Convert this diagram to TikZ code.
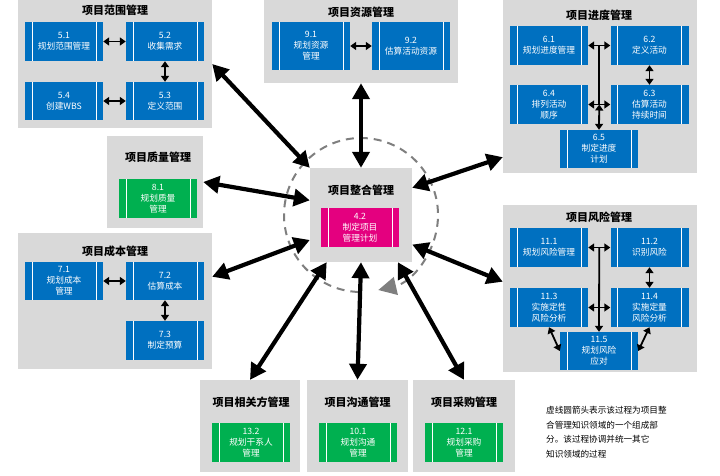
\documentclass[tikz,border=0pt]{standalone}
\usepackage{fontspec}
\setmainfont{Noto Sans CJK SC}
\usetikzlibrary{arrows.meta, calc}
\definecolor{procblue}{HTML}{0070C0}
\definecolor{procgreen}{HTML}{00B050}
\definecolor{procpink}{HTML}{E4007F}
\definecolor{groupgray}{HTML}{D9D9D9}
\definecolor{loopgray}{HTML}{7F7F7F}
\tikzset{
	groupnode/.style={
			draw=none,
			fill=groupgray,
			inner sep=0pt
		},
	titlenode/.style={
			font=\fontsize{11}{13}\selectfont\bfseries,
			inner sep=0pt
		},
	processnode/.style={
			fill=procblue,
			text=white,
			minimum width=78pt,
			minimum height=39pt,
			inner sep=0pt,
			align=center,
			font=\fontsize{8.7}{11}\selectfont,
			path picture={
					\draw[white, line width=0.7pt]
					([xshift=7pt]path picture bounding box.north west) -- ([xshift=7pt]path picture bounding box.south west)
					([xshift=-7pt]path picture bounding box.north east) -- ([xshift=-7pt]path picture bounding box.south east);
				}
		},
	plannode/.style={
			processnode,
			fill=procgreen
		},
	corenode/.style={
			processnode,
			fill=procpink
		},
	notenode/.style={
			align=left,
			inner sep=0pt,
			font=\fontsize{8.6}{14.6}\selectfont
		},
	bigarrow/.style={
			line width=4.2pt,
			{Triangle[length=16pt,width=17pt]}-{Triangle[length=16pt,width=17pt]}
		},
	smallarrow/.style={
			line width=1.8pt,
			{Triangle[length=6pt,width=8pt]}-{Triangle[length=6pt,width=8pt]}
		},
	loopline/.style={
			loopgray,
			line width=2pt,
			dash pattern=on 8pt off 6pt,
			-{Triangle[length=18pt,width=18pt]}
		}
}

\begin{document}
\begin{tikzpicture}[x=1pt, y=-1pt]
    \useasboundingbox (0,0) rectangle (720,475);

    \node[groupnode, minimum width=194pt, minimum height=128pt] (scope) at (115,64) {};
    \node[groupnode, minimum width=194pt, minimum height=83pt] (resource) at (361,41.5) {};
    \node[groupnode, minimum width=194pt, minimum height=173pt] (schedule) at (600,86.5) {};
    \node[groupnode, minimum width=96pt, minimum height=92pt] (quality) at (155,182) {};
    \node[groupnode, minimum width=102pt, minimum height=94pt] (integration) at (361,215) {};
    \node[groupnode, minimum width=194pt, minimum height=136pt] (cost) at (115,301) {};
    \node[groupnode, minimum width=194pt, minimum height=167pt] (risk) at (600,288.5) {};
    \node[groupnode, minimum width=100pt, minimum height=92pt] (stakeholder) at (250,426) {};
    \node[groupnode, minimum width=101pt, minimum height=92pt] (comm) at (357.5,426) {};
    \node[groupnode, minimum width=102pt, minimum height=92pt] (procure) at (464,426) {};

    \draw[loopline] ($(integration.center)+(92:77)$) arc[start angle=92, end angle=437, radius=77];

    \node[titlenode] (t-scope) at (115,10) {项目范围管理};
    \node[titlenode] (t-resource) at (361,12) {项目资源管理};
    \node[titlenode] (t-schedule) at (599,15) {项目进度管理};
    \node[titlenode] (t-quality) at (158,157) {项目质量管理};
    \node[titlenode] (t-integration) at (361,190) {项目整合管理};
    \node[titlenode] (t-cost) at (115,251) {项目成本管理};
    \node[titlenode] (t-risk) at (599,217) {项目风险管理};
    \node[titlenode] (t-stakeholder) at (251,402) {项目相关方管理};
    \node[titlenode] (t-comm) at (357.5,402) {项目沟通管理};
    \node[titlenode] (t-procure) at (464,402) {项目采购管理};

    \node[processnode] (p51) at (64,41.5) {5.1\\规划范围管理};
    \node[processnode] (p52) at (165,41.5) {5.2\\收集需求};
    \node[processnode, minimum height=38pt] (p54) at (64,101) {5.4\\创建WBS};
    \node[processnode, minimum height=38pt] (p53) at (165,101) {5.3\\定义范围};

    \node[processnode, minimum height=48pt] (p91) at (311,46) {9.1\\规划资源\\管理};
    \node[processnode, minimum height=48pt] (p92) at (411,46) {9.2\\估算活动资源};

    \node[processnode] (p61) at (549,45.5) {6.1\\规划进度管理};
    \node[processnode] (p62) at (649.5,45.5) {6.2\\定义活动};
    \node[processnode] (p64) at (549,104.5) {6.4\\排列活动\\顺序};
    \node[processnode] (p63) at (649.5,104.5) {6.3\\估算活动\\持续时间};
    \node[processnode, minimum height=38pt] (p65) at (599,149) {6.5\\制定进度\\计划};

    \node[plannode] (p81) at (158,198.5) {8.1\\规划质量\\管理};
    \node[corenode] (p42) at (360,227.5) {4.2\\制定项目\\管理计划};

    \node[processnode, minimum height=38pt] (p71) at (64,281) {7.1\\规划成本\\管理};
    \node[processnode, minimum height=38pt] (p72) at (165,281) {7.2\\估算成本};
    \node[processnode] (p73) at (165,340.5) {7.3\\制定预算};

    \node[processnode] (p111) at (549,247.5) {11.1\\规划风险管理};
    \node[processnode] (p112) at (649.5,247.5) {11.2\\识别风险};
    \node[processnode] (p113) at (549,307.5) {11.3\\实施定性\\风险分析};
    \node[processnode] (p114) at (649.5,307.5) {11.4\\实施定量\\风险分析};
    \node[processnode, minimum height=38pt] (p115) at (599,351) {11.5\\规划风险\\应对};

    \node[plannode] (p132) at (251,442.5) {13.2\\规划干系人\\管理};
    \node[plannode] (p101) at (358,442.5) {10.1\\规划沟通\\管理};
    \node[plannode] (p121) at (464,442.5) {12.1\\规划采购\\管理};

    \node[notenode, anchor=north west] (note) at (546,406) {虚线圆箭头表示该过程为项目整\\合管理知识领域的一个组成部\\分。该过程协调并统一其它\\知识领域的过程};

    \draw[smallarrow] (p51) -- (p52);
    \draw[smallarrow] (p52) -- (p53);
    \draw[smallarrow] (p54) -- (p53);
    \draw[smallarrow] (p91) -- (p92);

    \coordinate (s-top) at ($(p61.east)!0.5!(p62.west)$);
    \coordinate (s-mid) at ($(p64.east)!0.5!(p63.west)$);
    \draw[line width=1.8pt] (s-top) -- (s-mid);
    \draw[smallarrow] (p61) -- (p62);
    \draw[smallarrow] (p62) -- (p63);
    \draw[smallarrow] (p64) -- (p63);
    \draw[smallarrow] (s-mid) -- (p65.north);

    \draw[smallarrow] (p71) -- (p72);
    \draw[smallarrow] (p72) -- (p73);

    \coordinate (r-top) at ($(p111.east)!0.5!(p112.west)$);
    \draw[line width=1.8pt, -{Triangle[length=6pt,width=8pt]}] (r-top) -- (p115.north);
    \draw[smallarrow] (p111) -- (p112);
    \draw[smallarrow] (p112) -- (p114);
    \draw[smallarrow] (p113) -- (p114);
    \draw[smallarrow] (p113.south) -- (p115.west);
    \draw[smallarrow] (p114.south) -- (p115.east);

    \draw[bigarrow] (scope.east) -- (integration.north west);
    \draw[bigarrow] (resource.south) -- (integration.north);
    \draw[bigarrow] (schedule.216) -- (integration.28);
    \draw[bigarrow] (quality.east) -- (integration.164);
    \draw[bigarrow] (cost.14) -- (integration.206);
    \draw[bigarrow] (risk.176) -- (integration.-30);
    \draw[bigarrow] (stakeholder.north) -- (integration.234);
    \draw[bigarrow] (comm.north) -- (integration.south);
    \draw[bigarrow] (procure.north) -- (integration.-52);
\end{tikzpicture}
\end{document}
